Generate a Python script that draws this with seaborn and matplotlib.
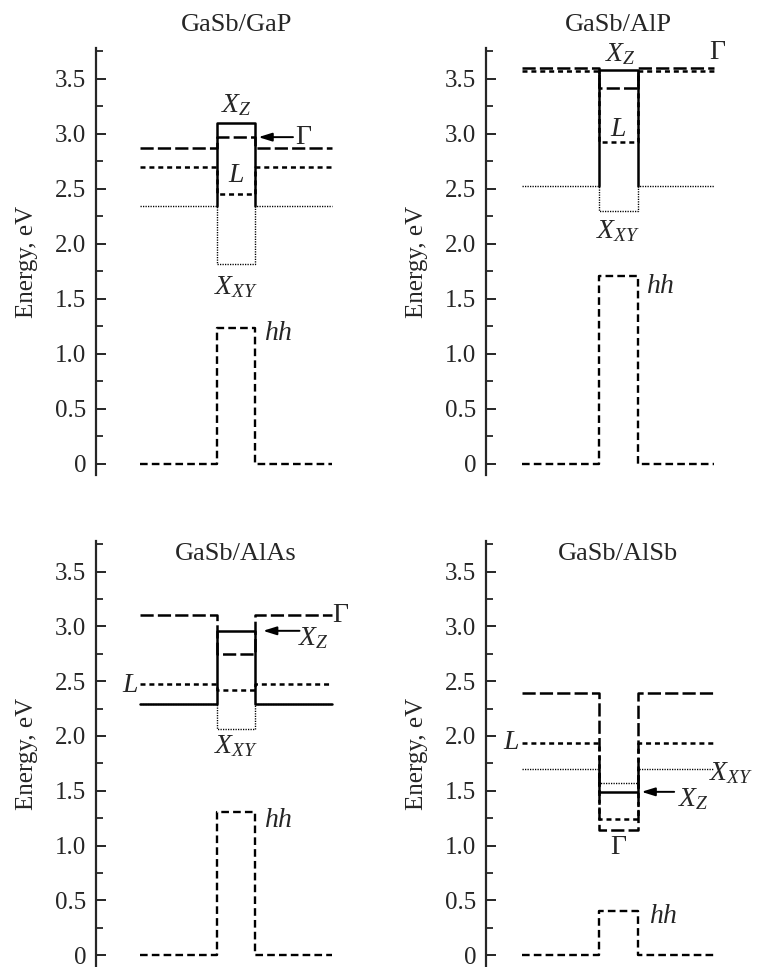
import matplotlib
matplotlib.use("Agg")

import matplotlib.pyplot as plt
import seaborn as sns
import pandas as pd

# band edges, eV (barrier level / level inside the well) for each panel
panels = ["GaSb/GaP", "GaSb/AlP", "GaSb/AlAs", "GaSb/AlSb"]
gamma_barrier = [2.87, 3.60, 3.10, 2.39]
gamma_well = [2.97, 3.42, 2.75, 1.14]
l_barrier = [2.70, 3.57, 2.47, 1.94]
l_well = [2.45, 2.93, 2.42, 1.24]
xxy_barrier = [2.34, 2.53, 2.29, 1.70]
xxy_well = [1.82, 2.30, 2.06, 1.57]
xz_well = [3.10, 3.58, 2.96, 1.49]
hh_barrier = [0.0, 0.0, 0.0, 0.0]
hh_well = [1.24, 1.71, 1.31, 0.40]
xz_barrier_drawn = [False, False, True, False]

# coordinate along growth direction: barrier | well | barrier
edges = [0.0, 2.0, 3.0, 5.0]

y_ticks = [0, 0.5, 1.0, 1.5, 2.0, 2.5, 3.0, 3.5]
y_ticklabels = ["0", "0.5", "1.0", "1.5", "2.0", "2.5", "3.0", "3.5"]
y_minor = [0.25, 0.75, 1.25, 1.75, 2.25, 2.75, 3.25, 3.75]

sns.set_style("ticks")
plt.rcParams["font.family"] = ["Liberation Serif", "DejaVu Serif"]
plt.rcParams["mathtext.fontset"] = "custom"
plt.rcParams["mathtext.rm"] = "Liberation Serif"
plt.rcParams["mathtext.it"] = "Liberation Serif:italic"
plt.rcParams["lines.scale_dashes"] = False


def profile(barrier, well, full=True):
    x0, x1, x2, x3 = edges
    if full:
        xs = [x0, x1, x1, x2, x2, x3]
        ys = [barrier, barrier, well, well, barrier, barrier]
    else:
        xs = [x1, x1, x2, x2]
        ys = [barrier, well, well, barrier]
    return pd.DataFrame({"x": xs, "E": ys})


styles = {
    "xxy": dict(lw=1.0, linestyle=(0, (0.9, 0.9))),
    "l": dict(lw=1.8, linestyle=(0, (3.6, 2.8))),
    "gamma": dict(lw=1.8, linestyle=(0, (9.5, 3.0))),
    "xz": dict(lw=1.8, linestyle="-"),
    "hh": dict(lw=1.7, linestyle=(0, (5.5, 3.0))),
}

# label placement (data coords): text, x, y, ha
labels = [
    [(r"$X_Z$", 2.5, 3.26, "center"), (r"$L$", 2.5, 2.62, "center"),
     (r"$X_{XY}$", 2.5, 1.61, "center"), (r"$hh$", 3.22, 1.19, "left"),
     ("Γ", 4.05, 2.97, "left")],
    [(r"$X_Z$", 2.55, 3.72, "center"), (r"$L$", 2.5, 3.04, "center"),
     (r"$X_{XY}$", 2.5, 2.12, "center"), (r"$hh$", 3.22, 1.61, "left"),
     ("Γ", 4.85, 3.74, "left")],
    [("Γ", 5.0, 3.10, "left"), (r"$L$", -0.05, 2.46, "right"),
     (r"$X_{XY}$", 2.5, 1.91, "center"), (r"$hh$", 3.22, 1.23, "left"),
     (r"$X_Z$", 4.12, 2.89, "left")],
    [(r"$L$", -0.08, 1.94, "right"), (r"$X_{XY}$", 4.85, 1.66, "left"),
     (r"$X_Z$", 4.05, 1.42, "left"), ("Γ", 2.5, 0.98, "center"),
     (r"$hh$", 3.3, 0.35, "left")],
]
# arrows: (tail x, tip x, y)
arrows = [(3.98, 3.08, 2.97), None, (4.15, 3.2, 2.96), (3.95, 3.1, 1.49)]

fig = plt.figure(figsize=(7.6, 9.67), dpi=100)
W, H = 760.0, 967.0
unit = 38.4
positions = [
    (96, 475, 6.95 * unit, 427, (-1.15, 5.8)),
    (486, 475, 6.75 * unit, 427, (-0.95, 5.8)),
    (96, 966, 6.95 * unit, 425, (-1.15, 5.8)),
    (486, 966, 6.75 * unit, 425, (-0.95, 5.8)),
]
title_y = [1.04, 1.04, 0.955, 0.955]

for i, name in enumerate(panels):
    left, bottom, w, h, xlim = positions[i]
    ax = fig.add_axes([left / W, 1 - bottom / H, w / W, h / H])

    sns.lineplot(data=profile(xxy_barrier[i], xxy_well[i]), x="x", y="E",
                 sort=False, estimator=None, color="k", ax=ax, **styles["xxy"])
    sns.lineplot(data=profile(l_barrier[i], l_well[i]), x="x", y="E",
                 sort=False, estimator=None, color="k", ax=ax, **styles["l"])
    sns.lineplot(data=profile(gamma_barrier[i], gamma_well[i]), x="x", y="E",
                 sort=False, estimator=None, color="k", ax=ax, **styles["gamma"])
    sns.lineplot(data=profile(xxy_barrier[i], xz_well[i], xz_barrier_drawn[i]),
                 x="x", y="E", sort=False, estimator=None, color="k", ax=ax,
                 **styles["xz"])
    sns.lineplot(data=profile(hh_barrier[i], hh_well[i]), x="x", y="E",
                 sort=False, estimator=None, color="k", ax=ax, **styles["hh"])

    for text, tx, ty, ha in labels[i]:
        ax.text(tx, ty, text, ha=ha, va="center", fontsize=20)

    if arrows[i] is not None:
        tail, tip, ay = arrows[i]
        ax.annotate("", xy=(tip, ay), xytext=(tail, ay),
                    arrowprops=dict(arrowstyle="-|>,head_length=0.8,head_width=0.25",
                                    lw=1.4, color="k", shrinkA=0, shrinkB=0))

    ax.text(2.5, title_y[i], name, transform=ax.get_xaxis_transform(),
            ha="center", va="baseline", fontsize=19)

    ax.set_xlim(*xlim)
    ax.set_ylim(-0.1, 3.78)
    ax.set_xticks([])
    ax.set_yticks(y_ticks)
    ax.set_yticklabels(y_ticklabels)
    ax.set_yticks(y_minor, minor=True)
    ax.tick_params(axis="y", which="major", direction="in", length=7,
                   width=1.4, labelsize=18, pad=7)
    ax.tick_params(axis="y", which="minor", direction="in", length=5, width=1.3)
    ax.set_xlabel("")
    ax.set_ylabel("Energy, eV", fontsize=18, labelpad=12)
    sns.despine(ax=ax, bottom=True)
    ax.spines["left"].set_linewidth(1.6)
    ax.patch.set_alpha(0)

fig.savefig("out.png", dpi=100)
